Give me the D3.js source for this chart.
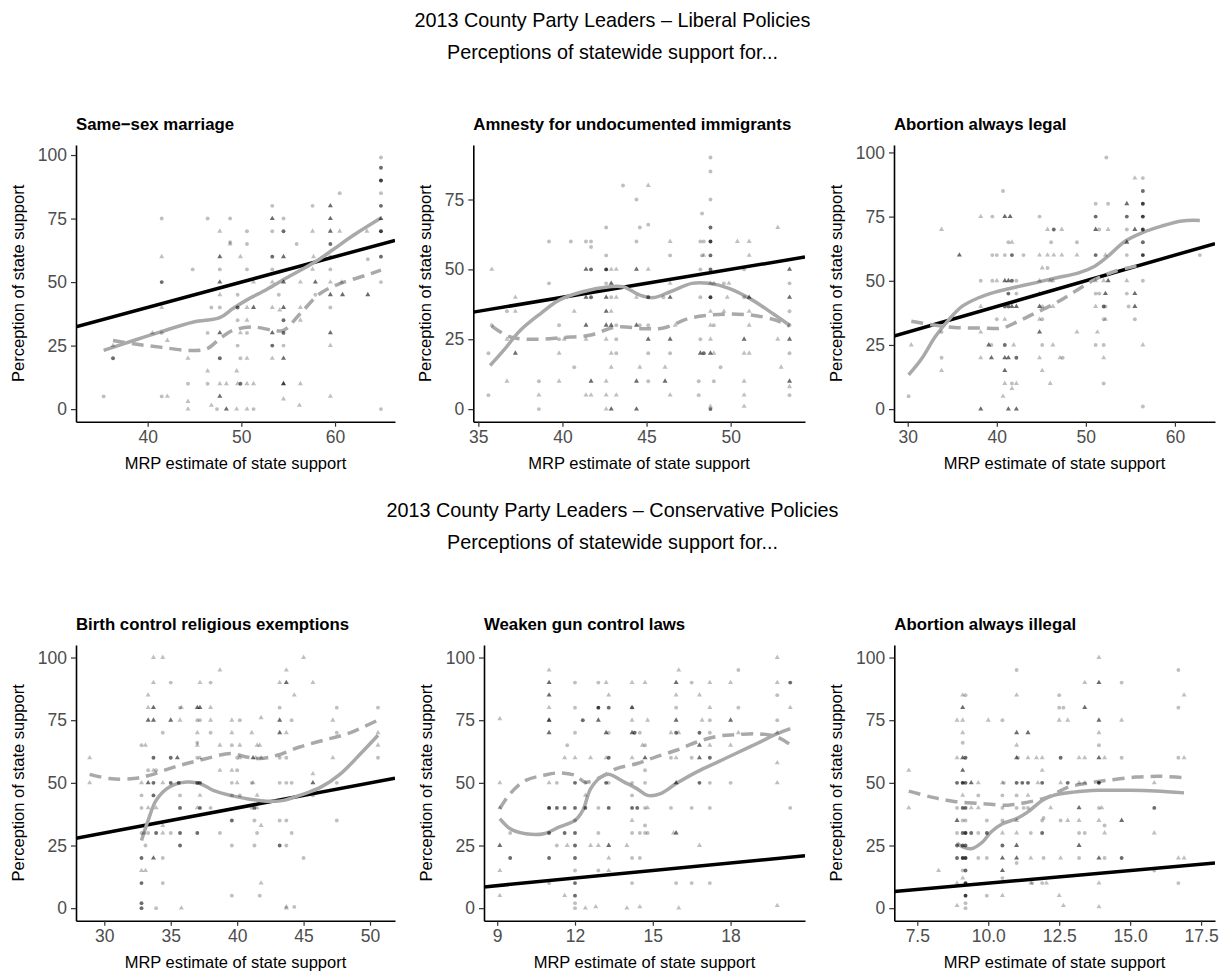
<!DOCTYPE html>
<html>
<head>
<meta charset="utf-8">
<script src="https://cdn.jsdelivr.net/npm/d3@7"></script>
<style>
  body { margin: 0; background: #fff; }
  svg { font-family: "Liberation Sans", Arial, Helvetica, sans-serif; }
</style>
</head>
<body>
<svg id="chart" width="1225" height="973"></svg>
<script>
// points: [MRP estimate, perception, shape (0 = circle, 1 = triangle), overlapping count]
var ssmPoints = [
  [35.3,5,0,1],[36.3,25,1,1],[36.3,20,0,3],[40.5,30,1,1],
  [41.5,75,0,1],[41.5,60,1,1],[41.5,50,0,3],[41.5,40,1,1],[41.5,30,0,1],[41.5,5,0,1],[42.1,5,1,1],[42.1,27,1,1],
  [44.8,55,0,1],[44.3,20,1,1],[44.3,10,0,1],[44.3,3,1,1],[44.3,0,1,1],
  [46.4,75,0,1],[46.4,30,0,1],[46.4,10,0,1],[46.4,15,1,1],[46.8,1.5,1,1],[46.8,40,0,1],[47.4,0,0,1],
  [47.7,70,1,1],[47.7,60,1,3],[47.7,55,0,1],[47.7,50,1,3],[47.7,45,1,1],[47.7,40,0,1],[47.7,30,1,3],[47.7,20,0,3],[47.7,10,1,1],[47.7,5,1,3],
  [48.4,0,1,3],[48.4,10,1,1],[48.8,75,0,1],[48.8,65.7,0,1],[48.8,65,1,1],
  [49.5,0,1,1],[49.5,15,1,1],[49.6,10,1,1],[49.6,25,0,1],[49.6,35,0,1],[49.6,45,0,1],[49.6,40,0,3],
  [49.9,60,1,1],[49.9,10,0,3],[49.9,30,1,1],[49.9,20,0,1],
  [50.6,70,0,1],[50.6,65,0,1],[50.6,55,0,1],[50.6,35,1,1],[50.6,20,1,1],[50.6,10,1,1],[50.6,0,1,1],[50.6,30,0,1],[50.6,40,1,1],
  [51.3,40,1,3],[51.3,50,1,1],[51.3,10,1,1],[51.3,0,0,1],
  [53.3,80,0,1],[53.3,75,1,3],[53.3,70,0,1],[53.3,60,0,3],[53.3,55,0,1],[53.3,50,1,1],[53.3,40,1,1],[53.3,30,1,3],[53.3,25,0,3],[53.3,20,1,1],
  [54.5,75,0,1],[54.5,70,0,3],[54.5,60,1,3],[54.5,50,1,3],[54.5,40,1,3],[54.5,35,0,3],[54.5,30,0,3],[54.5,25,0,1],[54.5,20,1,3],[54.5,10,1,5],[54.5,4,1,1],[54,45,0,1],[54.1,39,1,1],
  [55.9,65,0,1],[56.3,50,1,1],[56.3,10,1,1],[56.2,1.5,1,1],[56.3,35,1,1],[56.3,40,1,1],
  [57.6,80,0,1],[57.6,70,1,1],[57.7,60,1,1],[57.9,50,1,3],[57.9,45,0,1],[57.6,55,1,1],
  [59.5,80,1,3],[59.5,75,1,3],[59.5,70,1,3],[59.5,65,0,3],[59.5,60,0,1],[59.5,55,0,1],[59.5,50,1,1],[59.5,45,1,3],[59.5,40,0,1],[59.5,30,1,3],[59.5,25,1,1],[59.5,5,1,1],
  [60.5,85,0,1],[60.5,70,1,1],[60.7,50,1,1],[60.8,45,1,3],
  [63.4,70,1,1],[63.5,59,0,1],[63.5,45,1,3],
  [64.9,99,0,1],[64.9,95,0,3],[64.9,90,0,5],[64.9,85,0,1],[64.9,80,0,3],[64.9,75,1,3],[64.9,70,0,5],[64.9,60,0,3],[64.9,50,0,1],[64.9,0,0,1]
];
var ssmSolid = [[35.3,23.1],[38.5,27],[41.3,30.3],[44.9,34.3],[47.7,36],[49.1,39.6],[50.6,43],[52.7,47.1],[54.8,51.6],[57.9,58],[59.8,62.8],[62,68.5],[64.9,75.2]];
var ssmDashed = [[36.3,27],[38.5,25.7],[41.3,24.4],[44.5,23.1],[46.3,23.7],[47.7,27.7],[49.1,31],[51.3,32.3],[53.4,31],[54.5,31],[56.3,37.6],[58.4,45.5],[60.6,49.5],[63.4,52.8],[64.9,54.7]];

var amnPoints = [
  [35.6,5,0,1],[35.6,20,0,1],[35.8,50,1,1],[35.8,30,0,1],
  [36.7,35,0,1],[36.7,10,1,1],[37.2,20,1,3],[37.2,40,1,1],[37.2,35,1,1],[36.7,25,1,1],
  [38.6,5,1,1],[38.6,0,0,1],[38.6,10,0,1],[39.2,60,0,1],[39.2,45,0,1],
  [39.8,10,1,1],[39.8,20,1,1],[39.8,30,0,1],[39.8,25,0,1],[40.1,25,1,1],
  [40.5,60,0,1],[40.7,15,0,1],[40.7,35,1,1],
  [41.4,50,1,3],[41.4,40,1,3],[41.4,30,1,3],[41.4,5,1,1],[41.4,25,1,1],[41.4,60,0,1],[41.7,60,0,1],[41.7,58,0,1],[41.7,50,0,3],[41.7,40,0,3],[41.7,10,1,3],[41.7,5,1,1],
  [42.6,65,0,1],[42.6,55,0,1],[42.6,50,0,5],[42.6,45,0,1],[42.6,40,1,3],[42.6,35,1,3],[42.6,30,1,3],[42.6,25,1,1],[42.6,10,1,1],[42.6,5,1,1],[42.6,0,1,1],
  [42.9,45,1,3],[42.9,50,1,1],[42.9,40,0,1],[42.9,35,1,1],[42.9,30,1,3],[42.9,20,1,1],[42.9,15,1,1],[42.9,0,1,3],[43.2,50,1,1],[43.2,40,1,1],[43.2,30,0,1],[43.2,25,0,1],[43.2,20,0,1],[43.2,5,1,1],[43.6,80,0,1],
  [44.4,75,0,1],[44.4,60,0,1],[44.4,50,1,3],[44.4,40,1,1],[44.4,30,1,3],[44.4,10,1,3],[44.4,0,1,3],[44.6,15,1,1],[44.6,65,0,1],[44.6,30,0,1],
  [45.1,80,1,1],[45.1,66,0,1],[45.1,50,1,1],[45.1,40,0,3],[45.1,25,1,3],[45.1,20,0,1],[45.1,10,0,1],[45.1,30,0,1],
  [46,40,0,1],[46.1,15,1,1],[46.1,10,1,3],[46.4,60,1,1],[46.4,55,0,1],[46.4,40,1,3],[46.4,25,1,3],[46.4,20,0,1],[46.4,5,1,1],[46.4,45,1,1],[46.7,30,1,1],
  [48.1,5,0,1],[48.1,10,0,1],[48.2,40,0,1],[48.2,50,0,1],[48.3,70,0,1],[48.2,60,0,1],[48.3,55,0,1],[48.2,25,0,1],[48.2,20,1,3],
  [48.8,90,0,1],[48.8,85,0,1],[48.8,75,0,1],[48.8,65,0,3],[48.8,60,0,5],[48.8,55,0,3],[48.8,50,0,3],[48.8,45,1,1],[48.8,40,0,5],[48.8,35,1,1],[48.8,30,1,1],[48.8,25,1,1],[48.8,20,1,3],[48.8,0,0,3],[48.8,1,1,1],[48.4,20,0,3],[48.4,60,0,1],[48.4,55,1,1],
  [49.0,45,1,1],[49.0,30,0,1],[49.0,20,1,1],[49.0,10,0,1],[49.4,15,0,1],[49.6,45,0,1],[49.6,35,1,1],[49.8,40,1,1],[49.9,45,1,1],
  [50.4,60,1,1],[50.8,50,0,1],[50.8,25,1,3],[50.8,20,1,1],[50.8,10,1,1],[50.8,5,1,1],[50.8,1,1,1],[50.8,40,0,1],
  [51.1,60,1,1],[51.1,55,1,1],[51.1,40,1,3],[51.1,35,1,1],[51.1,20,1,1],[51.1,30,1,1],
  [52.8,65,1,1],[52.8,25,1,1],[53,15,1,1],
  [53.5,50,1,3],[53.5,45,0,1],[53.5,40,1,3],[53.5,35,0,1],[53.5,30,0,1],[53.5,25,1,3],[53.5,20,0,1],[53.5,10,1,3],[53.5,8,1,1],[53.5,5,0,1]
];
var amnSolid = [[35.7,15.6],[36.5,21],[37.5,28.2],[38.7,34.2],[39.8,39],[41.2,42],[42.8,43.8],[43.6,43.8],[44.6,40.8],[45.4,39.9],[46.4,42],[47.7,45],[48.7,45],[49.9,43.2],[51.3,39],[52.5,34.2],[53.5,30]];
var amnDashed = [[35.8,29.7],[36.9,25.8],[38.5,25],[40.0,25.6],[41.6,26.4],[43.2,29.4],[44.8,28.8],[46.0,29],[47.5,32.4],[48.7,33.6],[49.9,34],[51.3,33.6],[52.7,31.8],[53.5,29.7]];

var ablPoints = [
  [30.1,5,0,1],[30.4,25,1,1],
  [33.8,70,1,1],[33.8,20,0,1],[33.8,15,1,1],[33.8,30,0,1],
  [35.8,60,1,3],
  [38.2,75,1,1],[38.2,50,0,1],[38.2,40,1,1],[38.2,30,1,1],[38.2,20,1,1],[38.2,0,1,3],
  [39.1,25,1,3],[39.4,20,1,3],[39.4,25,0,1],[39.5,75,0,1],[39.5,60,0,1],[39.5,50,0,1],
  [40,60,0,1],[40,35,0,1],[40,50,1,1],
  [40.7,85,0,1],[40.7,5,1,1],
  [40.9,75,1,3],[40.9,60,0,1],[40.9,50,1,3],[40.9,40,0,3],[40.9,25,0,3],[40.9,20,1,3],[40.9,15,1,3],[40.9,10,1,1],[40.9,35,1,1],
  [41.3,0,1,3],[41.5,75,1,3],[41.3,65,0,1],[41.3,50,1,3],[41.3,45,0,3],[41.3,40,0,3],[41.3,20,1,3],
  [41.7,65,1,1],[41.7,60,0,3],[41.7,50,0,3],[41.7,40,1,3],[41.7,10,0,1],[41.7,8,1,1],[41.9,25,1,1],
  [42.2,40,1,3],[42.2,20,0,3],[42.2,0,1,3],[42.2,10,1,1],[42.2,45,0,1],[42.2,50,0,1],
  [43,60,0,1],
  [44.8,75,0,1],[44.8,60,1,1],[44.8,50,1,1],[44.8,45,1,1],[44.8,40,1,3],[44.8,35,1,1],[44.8,30,1,3],[44.8,20,1,1],[45.1,15,1,1],[45.1,25,0,1],[45.1,35,0,1],[45.1,40,0,1],[45.1,55,1,1],
  [45.7,70,1,1],[45.7,60,1,1],[45.7,55,0,1],[46,50,1,1],[46,10,1,1],[46.1,65,0,1],[46.3,50,1,1],[46.3,25,1,1],[46.4,70,0,3],[46.4,60,1,1],[46.3,40,1,1],
  [47.3,70,1,1],[47.3,60,1,1],[47.1,20,1,1],[47.4,20,0,1],
  [49,65,0,1],[49,60,1,1],[49,30,1,1],
  [51.1,80,0,1],[51.1,75,0,3],[51.1,70,1,3],[51.1,60,0,3],[51.1,50,1,1],[51.1,45,0,1],[51.1,40,1,1],[51.1,25,0,1],[51.3,30,1,1],
  [51.5,70,0,1],[51.5,45,0,1],
  [52.0,10,0,1],[52.0,20,1,1],[52.0,25,0,1],[52,35,0,1],[52,40,0,3],[52,50,1,1],[52.3,98,0,1],[52.5,80,0,1],[52.5,70,1,1],[52.2,60,1,1],[52.5,50,1,3],[52.2,45,1,3],[52.2,35,1,1],[52.2,40,0,1],
  [54.6,80,1,3],[54.6,75,0,3],[54.6,70,0,1],[54.6,65,1,3],[54.6,60,0,1],[54.6,50,1,1],[54.6,45,0,1],[54.8,40,0,1],
  [55.5,90,1,1],[55.5,70,1,3],[55.5,45,1,3],[55.5,40,1,3],[55.5,35,0,1],
  [56.4,90,0,1],[56.4,85,0,3],[56.4,80,0,5],[56.4,75,0,5],[56.4,70,0,5],[56.4,65,0,3],[56.4,60,0,5],[56.4,50,0,1],[56.4,25,1,1],[56.4,1,0,1],
  [62.8,60,0,1]
];
var ablSolid = [[30.1,13.3],[31.6,19.8],[33.1,28.3],[34.6,34.8],[36.1,40],[37.9,43.3],[39.8,45.6],[41.7,47.2],[44.3,49.2],[46.6,51.1],[49.2,53.1],[51.0,55.7],[52.5,59.6],[54.4,65.4],[56.3,68.7],[58.5,71.3],[60.8,73.3],[62.8,73.5]];
var ablDashed = [[30.4,34.2],[32.7,32.9],[35.3,31.8],[38.3,31.6],[40.6,31.6],[42.4,34.2],[44.3,37.4],[46.6,41.3],[48.8,45.9],[51.0,50.5],[53.3,53.7],[56.3,56.3]];

var bcrPoints = [
  [28.9,60,1,1],[28.9,50,1,1],
  [32.8,0,0,3],[32.8,2,0,3],[32.8,10,0,3],[32.8,15,1,1],[32.8,20,0,3],[32.8,30,0,1],[32.8,40,0,1],[32.8,45,0,1],[32.8,50,1,1],[32.8,65,0,1],[33.1,65,1,1],[33.1,15,1,1],[33.1,25,0,1],[33,30,1,1],
  [33.3,85,1,1],[33.3,80,1,1],[33.3,75,1,3],[33.3,55,0,1],[33.3,50,1,3],[33.3,40,1,1],[33.3,30,0,1],
  [33.7,100,1,1],[33.7,90,1,1],[33.7,80,1,3],[33.7,75,1,3],[33.7,60,0,3],[33.7,55,1,1],[33.7,50,0,3],[33.7,45,0,3],[33.7,20,1,3],[33.9,30,0,3],[33.9,0,0,1],[33.9,40,1,1],[33.9,55,0,1],
  [34.4,100,1,1],[34.4,20,0,1],[34.4,10,0,1],[34.4,70,0,1],[34.4,50,1,1],[34.4,30,1,1],[34.4,33,1,1],
  [35,90,0,1],[35,75,1,3],[35,60,0,3],[35,50,0,3],[35,30,0,1],
  [35.5,60,1,3],[35.6,50,0,3],[35.7,80,0,1],[35.7,75,1,1],[35.7,45,0,1],[35.7,40,0,3],[35.7,30,0,3],[35.7,25,0,3],[35.8,80,1,1],[35.8,0,1,1],
  [37,80,1,3],[37,75,0,1],[37,70,1,1],[37,65,1,1],[37,60,0,1],[37,50,0,3],[37,40,1,1],[37,30,0,3],[37.2,80,1,3],[37.2,75,0,1],[37.2,90,1,1],[37.2,50,0,3],[37.2,45,1,1],[37.2,40,0,3],[37.2,60,1,1],[37,66,0,1],
  [38,90,0,1],[38,80,1,1],[38,75,1,1],[38,70,0,1],[38,40,0,1],
  [38.7,95,1,1],[38.7,65,1,1],[38.7,30,0,1],[38.7,55,1,1],
  [39.6,75,1,1],[39.6,70,1,1],[39.6,65,0,1],[39.6,55,1,1],[39.6,50,0,1],[39.6,45,0,1],[39.6,35,0,3],[39.6,25,0,1],[39.6,5,0,1],
  [40,55,0,1],[40,60,0,1],[40,50,1,1],[40.2,75,0,1],[40.2,65,1,1],[40.2,60,1,1],[40.2,45,0,1],
  [41.1,70,1,1],[41.1,50,0,1],[41.1,40,0,1],[41.2,60,1,3],[41.2,50,1,1],[41.3,40,0,3],[41.3,35,0,1],[41.3,25,0,1],[41.4,60,1,1],
  [41.5,65,1,1],[41.5,45,1,1],[41.5,40,1,1],[41.5,30,0,1],[41.7,65,1,1],[41.7,5,0,1],[41.8,10,1,1],[41.8,76,1,1],[41.8,60,1,1],[41.8,33,1,1],
  [43.2,90,1,1],[43.2,80,0,1],[43.2,75,1,3],[43.2,70,1,3],[43.2,60,0,1],[43.2,50,0,1],[43.2,35,0,1],[43.2,25,0,3],
  [43.7,95,1,1],[43.7,90,1,3],[43.7,70,1,1],[43.7,60,0,1],[43.7,50,0,1],[43.7,35,0,1],[43.7,25,0,1],[43.7,0,1,1],[43.7,0.5,1,1],
  [44.1,75,0,1],[44.1,50,0,1],[44.1,30,0,1],[44.3,85,1,1],[44.3,0.5,0,1],
  [45,100,1,1],[45,20,0,1],
  [45.7,90,1,1],[45.7,53.6,1,1],[45.7,50,1,3],[45.7,45,0,1],
  [47.2,75,1,1],[47.5,80,0,1],[47.5,70,0,1],[47.5,50,0,1],[47.5,35,0,1],[47.2,60,1,1],
  [50.6,80,0,1],[50.6,65,1,1],[50.6,60,0,1],[50.6,70,1,1]
];
var bcrSolid = [[32.8,27],[33.3,35],[33.9,43],[34.9,48.3],[36.2,50.3],[37.2,49.7],[38.2,47],[39.5,45],[40.7,43.7],[42.2,42.7],[43.5,43],[44.7,45],[46.3,48.3],[47.8,53.7],[49.3,61.7],[50.6,69]];
var bcrDashed = [[28.9,53.4],[30.4,51.7],[32.2,51.7],[33.4,53],[34.9,55.7],[36.2,57.7],[37.7,59.7],[39.5,61.7],[40.7,60.3],[41.7,59.7],[43,61],[44.7,64.3],[46.5,67],[48.3,69.6],[50.6,75]];

var gunPoints = [
  [9.1,75.6,1,1],[9.1,50,1,1],[9.1,40,1,1],[9.1,25,1,3],[9.1,15,1,1],[9.1,5,1,1],
  [9.5,30,0,1],[9.5,20,0,3],
  [11,95,1,1],[11,90,1,3],[11,85,1,3],[11,80,1,1],[11,75,1,5],[11,70,1,3],[11,50,1,1],[11,40,0,5],[11,30,0,3],[11,20,0,3],[11,10,0,1],
  [11.3,50,0,1],[11.3,40,0,3],[11.3,25,0,1],[11.6,40,0,3],[11.6,30,0,3],[11.6,60,1,1],[11.6,5,1,1],[11.7,65,0,1],[11.7,25,1,1],
  [12,90,0,1],[12,80,0,1],[12,70,0,1],[12,60,1,1],[12,50,0,3],[12,40,0,3],[12,35,0,1],[12,30,0,3],[12,25,0,3],[12,20,0,3],[12,15,0,1],[12,10,0,3],[12,5,0,3],[12,2,0,1],[12,0,0,1],
  [12.3,75,0,3],[12.4,45,1,1],[12.4,40,0,3],[12.4,0,1,1],[12.4,50,0,1],
  [12.6,60,1,1],[12.6,25,1,1],[12.8,0.5,1,1],[12.9,90,0,1],[12.9,80,0,5],[12.9,75,1,3],[12.9,40,0,1],[12.9,30,0,1],[12.9,25,1,1],[12.9,15,0,1],
  [13.2,90,1,1],[13.2,60,1,1],[13.2,70,1,3],[13.2,50,0,3],
  [13.3,85,1,1],[13.3,80,0,3],[13.3,70,0,1],[13.3,60,0,3],[13.3,50,0,1],[13.3,40,0,3],[13.3,25,1,3],[13.3,20,1,1],[13.3,15,1,1],
  [14,25,1,1],[14,0,1,1],[14.2,90,1,1],[14.2,80,0,1],[14.2,75,1,1],[14.2,70,1,3],[14.2,60,1,1],[14.2,50,0,1],[14.2,45,0,1],[14.2,40,0,3],[14.2,35,1,1],[14.2,30,0,1],[14.2,20,0,1],[14.2,10,0,1],
  [14.2,80,1,3],[14.3,70,0,3],[14.4,40,0,3],[14.5,70,0,1],[14.5,30,0,1],[14.5,20,0,1],[14.5,0.5,1,1],[14.6,65,1,1],
  [14.7,90,1,1],[14.7,65,0,1],[14.7,60,1,3],[14.7,55,0,1],[14.7,50,0,1],[14.7,40,0,1],[14.7,30,0,1],[14.7,33,0,1],[14.8,75,1,1],[14.8,40,1,1],[14.8,30,0,1],
  [15.7,70,1,1],[15.7,40,0,1],[15.7,60,0,1],
  [15.9,90,1,3],[15.9,85,1,1],[15.9,80,0,1],[15.9,75,1,3],[15.9,70,0,3],[15.9,60,1,1],[15.9,50,1,3],[15.9,30,1,3],[15.9,10,0,1],[16,95,1,1],[16,70,1,1],[16,0,1,1],[15.8,30,1,1],
  [16.5,90,0,1],[16.5,40,0,1],[16.5,10,0,1],[16.5,60,0,1],
  [16.8,85,1,1],[16.8,65,1,3],[16.8,60,1,3],[16.8,50,0,3],[16.8,25,1,1],[16.8,70,0,3],
  [16.9,75,1,1],[17.2,90,1,1],[17.2,80,1,1],[17.2,75,0,1],[17.2,70,0,1],[17.2,60,0,3],[17.2,50,0,1],[17.2,40,0,1],[17.2,10,0,1],[17.2,65,1,1],
  [18,90,1,1],[18,75,1,3],[18,65,1,1],[18,50,0,1],
  [18.3,70,1,1],[18.3,95,0,1],[18.3,80,0,1],
  [19.8,100,1,1],[19.8,90,1,1],[19.8,85,0,1],[19.8,75,0,1],[19.8,70,1,1],[19.8,58,1,1],[19.8,50,1,1],[19.8,1,1,1],
  [20.3,90,0,3],[20.3,80,1,1],[20.3,40,0,1]
];
var gunSolid = [[9.1,35.7],[9.5,31.7],[10.1,29.7],[10.8,29.7],[11.4,32.4],[12,35],[12.3,39],[12.6,47.6],[13,52.3],[13.3,53.4],[13.9,50.3],[14.4,47.6],[14.8,45],[15.3,45.7],[15.9,49.7],[16.7,54.4],[17.5,58.3],[18.2,61.7],[19,65.6],[19.8,69.6],[20.3,71.6]];
var gunDashed = [[9.1,39.7],[9.5,45.7],[10.1,51],[10.8,53],[11.4,54],[12,53],[12.4,50.3],[13,52.3],[13.6,55.7],[14.4,57.7],[15.1,60.3],[15.9,63],[16.7,66.3],[17.5,68.6],[18.2,69.2],[19,69.6],[19.8,68.3],[20.3,65.2]];

var abiPoints = [
  [7.2,55,1,1],[7.2,40,1,1],[8.25,15,1,1],
  [8.9,75,1,1],[8.9,60,1,1],[8.9,50,0,3],[8.9,40,0,1],[8.9,35,1,3],[8.9,30,0,1],[8.9,25,0,3],[8.9,20,0,3],[8.9,10,1,1],[8.9,1,1,1],
  [9.1,85,1,1],[9.1,80,1,3],[9.1,75,1,1],[9.1,70,1,1],[9.1,66,0,1],[9.1,60,1,3],[9.1,55,1,3],[9.1,50,0,5],[9.1,45,1,1],[9.1,40,0,3],[9.1,35,0,1],[9.1,30,0,3],[9.1,25,0,3],[9.1,20,0,5],[9.1,15,0,1],[9.1,12,1,1],
  [9.2,85,0,1],[9.2,60,0,3],[9.2,50,0,3],[9.2,40,0,3],[9.2,35,0,1],[9.2,30,0,5],[9.2,20,0,5],[9.2,15,0,3],[9.2,10,0,5],[9.2,5,0,5],[9.2,2,0,1],[9.2,0,0,1],[9.2,25,0,3],
  [9.4,50,1,3],[9.4,40,1,1],[9.4,30,0,3],[9.65,50,1,1],[9.65,40,1,1],[9.65,30,0,1],[9.65,45,0,1],[9.65,20,0,1],
  [9.95,35,0,1],[9.95,30,0,3],[9.95,20,0,1],[9.95,5,0,1],[10,75,1,1],
  [10.5,75,0,1],[10.5,50,1,1],[10.5,45,0,1],[10.5,40,0,1],[10.5,35,0,1],[10.5,30,1,1],[10.5,25,0,3],[10.5,20,1,3],[10.5,15,1,3],[10.5,12,0,1],[10.5,5,1,1],[10.55,50,0,1],
  [11,70,1,3],[11,65,1,1],[11,60,1,3],[11,50,0,3],[11,45,0,1],[11,40,0,1],[11,35,1,1],[11,30,1,1],[11,25,1,3],[11,20,1,3],[11,18,0,1],[11,85,1,1],[11,95,0,1],[11.05,60,0,1],
  [11.2,50,0,3],[11.25,40,0,1],[11.4,70,1,3],[11.4,60,1,1],[11.4,45,1,1],[11.4,50,0,3],[11.4,40,0,1],[11.5,10,1,1],[11.5,20,1,1],[11.5,30,0,1],[11.55,10,0,1],
  [11.7,60,1,1],[11.75,50,1,1],[11.9,60,1,1],[11.9,55,1,1],[11.9,50,0,3],[11.9,30,0,3],[11.9,10,0,1],[11.9,35,0,1],[11.95,36,0,1],[11.95,20,0,1],[12.05,10,1,1],[12.2,40,1,1],
  [12.5,85,0,1],[12.5,80,0,1],[12.5,75,1,1],[12.55,60,0,3],[12.55,50,1,1],[12.55,35,0,1],[12.55,20,1,1],[12.5,5,1,1],[12.65,80,0,1],[12.65,1,1,1],[12.8,75,1,1],[12.8,50,0,3],[12.8,35,1,1],
  [13.2,60,1,1],[13.2,50,1,1],[13.2,40,1,3],[13.2,35,1,1],[13.2,25,1,3],[13.2,20,0,1],[13.2,30,0,1],
  [13.4,90,1,1],[13.4,80,1,3],[13.4,60,1,1],[13.4,50,1,1],[13.4,30,0,1],
  [13.9,100,1,1],[13.9,90,1,3],[13.9,75,1,3],[13.9,70,1,1],[13.9,65,0,1],[13.9,60,1,3],[13.9,50,0,5],[13.9,40,0,1],[13.9,35,1,1],[13.9,20,1,3],[13.9,10,1,1],[13.9,0.5,1,1],[14,40,1,1],[14.1,60,1,1],[14.1,20,0,1],[14.1,33,0,1],[14.1,30,1,1],
  [14.7,90,0,1],[14.7,75,1,1],[14.7,60,0,1],[14.7,35,1,3],[14.7,20,0,3],
  [15.85,40,0,3],[15.85,50,1,1],[15.85,30,1,1],[15.85,15,0,1],
  [16.7,95,0,1],[16.7,80,0,1],[16.7,60,0,1],[16.7,20,1,1],[16.7,10,0,1],[16.9,85,1,1],[16.9,60,1,1],[16.9,20,1,1]
];
var abiSolid = [[8.9,26],[9.1,24.4],[9.4,23.7],[9.8,26.4],[10.1,30.4],[10.5,33.7],[11,35.7],[11.4,38.4],[11.9,43],[12.3,45],[13,46.3],[13.9,47],[15.0,47],[15.9,46.7],[16.9,46]];
var abiDashed = [[7.2,46.7],[8.0,44.3],[8.8,42.6],[9.8,41.7],[10.7,41.1],[11.4,42.3],[12.1,44.3],[12.8,48.2],[13.5,49.9],[14.2,51],[15.2,52.3],[16.1,52.6],[16.9,52.1]];

var yTicks100 = [0, 25, 50, 75, 100];
var yTicks75 = [0, 25, 50, 75];

var panels = [
  {title: "Same\u2212sex marriage", pts: ssmPoints, solid: ssmSolid, dashed: ssmDashed,
   xDom: [32.35, 66.4], yDom: [-4.95, 103.95], xTicks: [40, 50, 60], yTicks: yTicks100, fmt: "d",
   box: {l: 76, r: 395, t: 145, b: 421.7}},
  {title: "Amnesty for undocumented immigrants", pts: amnPoints, solid: amnSolid, dashed: amnDashed,
   xDom: [34.7, 54.42], yDom: [-4.5, 94.5], xTicks: [35, 40, 45, 50], yTicks: yTicks75, fmt: "d",
   box: {l: 473.3, r: 805, t: 145, b: 421.7}},
  {title: "Abortion always legal", pts: ablPoints, solid: ablSolid, dashed: ablDashed,
   xDom: [28.46, 64.5], yDom: [-4.9, 102.9], xTicks: [30, 40, 50, 60], yTicks: yTicks100, fmt: "d",
   box: {l: 894, r: 1215, t: 145, b: 421.7}},
  {title: "Birth control religious exemptions", pts: bcrPoints, solid: bcrSolid, dashed: bcrDashed,
   xDom: [27.87, 51.88], yDom: [-5, 105], xTicks: [30, 35, 40, 45, 50], yTicks: yTicks100, fmt: "d",
   box: {l: 76, r: 395, t: 645, b: 920.7}},
  {title: "Weaken gun control laws", pts: gunPoints, solid: gunSolid, dashed: gunDashed,
   xDom: [8.49, 20.87], yDom: [-5, 105], xTicks: [9, 12, 15, 18], yTicks: yTicks100, fmt: "d",
   box: {l: 484, r: 805, t: 645, b: 920.7}},
  {title: "Abortion always illegal", pts: abiPoints, solid: abiSolid, dashed: abiDashed,
   xDom: [6.69, 17.99], yDom: [-5, 105], xTicks: [7.5, 10, 12.5, 15, 17.5], yTicks: yTicks100, fmt: ".1f",
   box: {l: 894.3, r: 1215, t: 645, b: 920.7}}
];

var headings = [
  {y: 27, lines: ["2013 County Party Leaders \u2013 Liberal Policies", "Perceptions of statewide support for..."]},
  {y: 517, lines: ["2013 County Party Leaders \u2013 Conservative Policies", "Perceptions of statewide support for..."]}
];

var svg = d3.select("#chart");
var gray = "#a9a9a9";

headings.forEach(function(h) {
  h.lines.forEach(function(txt, i) {
    svg.append("text")
      .attr("x", 612.5)
      .attr("y", h.y + i * 32)
      .attr("text-anchor", "middle")
      .attr("font-size", 19.8)
      .attr("fill", "#000")
      .text(txt);
  });
});

var tri = d3.symbol().type(d3.symbolTriangle).size(11);
var dot = d3.symbol().type(d3.symbolCircle).size(12);

panels.forEach(function(p, i) {
  var b = p.box;
  var x = d3.scaleLinear().domain(p.xDom).range([b.l, b.r]);
  var y = d3.scaleLinear().domain(p.yDom).range([b.b, b.t]);
  var g = svg.append("g");

  var clipId = "clip" + i;
  g.append("clipPath").attr("id", clipId)
    .append("rect")
    .attr("x", b.l).attr("y", b.t)
    .attr("width", b.r - b.l).attr("height", b.b - b.t);

  var plot = g.append("g").attr("clip-path", "url(#" + clipId + ")");

  // 45-degree reference line (perception = estimate)
  plot.append("line")
    .attr("x1", x(p.xDom[0])).attr("y1", y(p.xDom[0]))
    .attr("x2", x(p.xDom[1])).attr("y2", y(p.xDom[1]))
    .attr("stroke", "#000")
    .attr("stroke-width", 3.5);

  var line = d3.line()
    .x(function(d) { return x(d[0]); })
    .y(function(d) { return y(d[1]); })
    .curve(d3.curveCatmullRom);

  plot.append("path")
    .datum(p.dashed)
    .attr("d", line)
    .attr("fill", "none")
    .attr("stroke", gray)
    .attr("stroke-width", 3.5)
    .attr("stroke-dasharray", "12,7");

  plot.append("path")
    .datum(p.solid)
    .attr("d", line)
    .attr("fill", "none")
    .attr("stroke", gray)
    .attr("stroke-width", 3.5);

  plot.selectAll(".pt")
    .data(p.pts)
    .enter().append("path")
    .attr("class", "pt")
    .attr("transform", function(d) { return "translate(" + x(d[0]) + "," + y(d[1]) + ")"; })
    .attr("d", function(d) { return d[2] === 1 ? tri() : dot(); })
    .attr("fill", "#000")
    .attr("fill-opacity", function(d) { return 1 - Math.pow(0.75, d[3]); });

  var xAxis = g.append("g")
    .attr("transform", "translate(0," + b.b + ")")
    .call(d3.axisBottom(x).tickValues(p.xTicks).tickFormat(d3.format(p.fmt)).tickSize(5).tickSizeOuter(0).tickPadding(4));
  var yAxis = g.append("g")
    .attr("transform", "translate(" + b.l + ",0)")
    .call(d3.axisLeft(y).tickValues(p.yTicks).tickFormat(d3.format("d")).tickSize(5).tickSizeOuter(0).tickPadding(4));

  [xAxis, yAxis].forEach(function(a) {
    a.select(".domain").attr("stroke", "#000").attr("stroke-width", 1.6);
    a.selectAll(".tick line").attr("stroke", "#333").attr("stroke-width", 1.2);
    a.selectAll(".tick text")
      .attr("font-size", 17.5)
      .attr("font-family", "Liberation Sans, Arial, sans-serif")
      .attr("fill", "#4d4d4d");
  });

  var bb = yAxis.node().getBBox();

  g.append("text")
    .attr("x", (b.l + b.r) / 2)
    .attr("y", b.b + 47)
    .attr("text-anchor", "middle")
    .attr("font-size", 16.5)
    .text("MRP estimate of state support");

  g.append("text")
    .attr("transform", "translate(" + (b.l + bb.x - 14) + "," + ((b.t + b.b) / 2) + ") rotate(-90)")
    .attr("text-anchor", "middle")
    .attr("font-size", 16.5)
    .text("Perception of state support");

  g.append("text")
    .attr("x", b.l)
    .attr("y", b.t - 15.5)
    .attr("font-size", 16.8)
    .attr("font-weight", "bold")
    .text(p.title);
});
</script>
</body>
</html>
